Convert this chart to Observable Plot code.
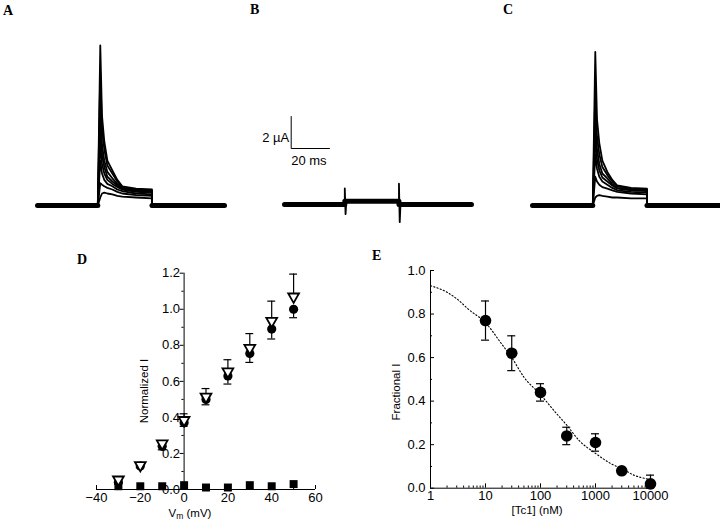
<!DOCTYPE html>
<html><head><meta charset="utf-8">
<script src="https://cdn.jsdelivr.net/npm/d3@7"></script>
<script src="https://cdn.jsdelivr.net/npm/@observablehq/plot@0.6"></script>
<style>
body{margin:0;background:#fff;}
#fig{position:relative;width:720px;height:524px;overflow:hidden;background:#fff;font-family:"Liberation Sans",Arial,sans-serif;color:#000;}
.panel{position:absolute;}
.panel svg text{font-family:"Liberation Sans",Arial,sans-serif;}
.lbl{position:absolute;font-family:"Liberation Serif",serif;font-weight:bold;font-size:14px;line-height:1;}
.ttl{position:absolute;font-size:11.5px;line-height:1;white-space:nowrap;transform:translateX(-50%);}
.ttl sub{font-size:8.5px;vertical-align:-2px;}
.rot{position:absolute;font-size:11.5px;line-height:1;white-space:nowrap;transform:translate(-50%,-50%) rotate(-90deg);}
</style></head><body><div id="fig"></div>
<script>
// ---------- Traces (A, B, C): times in ms, currents in µA ----------
const sweepEnd = 97.7;        // ms, total sweep
const stepOn = 31.5;          // ms, pulse onset
const stepOff = 59.8;         // ms, pulse end
const relTimes = [0, 1.3, 2.2, 3.4, 5, 7.6, 10.2, 12.8, 20, 28.3];
const tracesA = [
  [0, 10.0, 5.6, 4.0, 2.8, 2.2, 1.6, 1.2, 1.05, 1.0],
  [0, 8.3, 4.8, 3.5, 2.5, 2.0, 1.5, 1.15, 1.0, 0.95],
  [0, 6.3, 3.8, 2.8, 2.1, 1.7, 1.35, 1.1, 0.95, 0.9],
  [0, 5.2, 3.2, 2.4, 1.8, 1.5, 1.25, 1.05, 0.9, 0.85],
  [0, 3.9, 2.6, 2.0, 1.6, 1.35, 1.15, 1.0, 0.85, 0.8],
  [0, 2.8, 2.0, 1.6, 1.35, 1.2, 1.0, 0.9, 0.75, 0.7],
  [0, 1.4, 1.3, 1.2, 1.1, 1.0, 0.85, 0.75, 0.65, 0.6],
  [0, 0.5, 0.75, 0.8, 0.75, 0.7, 0.6, 0.55, 0.5, 0.45]
];
const tracesC = [
  [0, 9.6, 5.4, 3.9, 2.8, 2.1, 1.6, 1.25, 1.1, 1.05],
  [0, 7.1, 4.3, 3.2, 2.4, 1.9, 1.5, 1.2, 1.05, 1.0],
  [0, 5.5, 3.5, 2.6, 2.0, 1.7, 1.35, 1.1, 1.0, 0.95],
  [0, 4.4, 2.9, 2.2, 1.75, 1.5, 1.25, 1.05, 0.95, 0.9],
  [0, 3.2, 2.3, 1.8, 1.5, 1.3, 1.1, 0.95, 0.85, 0.8],
  [0, 1.8, 1.5, 1.3, 1.15, 1.05, 0.95, 0.85, 0.75, 0.7],
  [0, 0.5, 0.6, 0.65, 0.6, 0.55, 0.5, 0.5, 0.45, 0.45]
];
const traceBTimes = [0, 31.5, 31.5, 31.9, 32.3, 59.8, 59.8, 60.2, 60.6, 97.7];
const traceBValues = [0, 0, 1.0, -0.6, 0.2, 0.2, 1.3, -1.1, 0, 0];
const traceBBandTimes = [0, 31.5, 31.5, 59.8, 59.8, 97.7];
const traceBBandValues = [0, 0, 0.2, 0.2, 0, 0];
const scaleBarTime = 20;   // ms
const scaleBarAmp = 2;     // µA

// ---------- Panel D: I–V ----------
const dVm = [-30, -20, -10, 0, 10, 20, 30, 40, 50];
const dCircle = [0.04, 0.13, 0.24, 0.37, 0.50, 0.63, 0.755, 0.89, 1.00];
const dCircleLo = [0.03, 0.12, 0.22, 0.35, 0.47, 0.585, 0.705, 0.835, 0.953];
const dTriangle = [0.055, 0.135, 0.255, 0.385, 0.515, 0.655, 0.785, 0.935, 1.07];
const dTriangleHi = [0.065, 0.145, 0.265, 0.42, 0.56, 0.72, 0.865, 1.045, 1.195];
const dSquare = [0.018, 0.018, 0.018, 0.024, 0.011, 0.011, 0.024, 0.018, 0.03];
const dXTicks = [-40, -20, 0, 20, 40, 60];
const dXMinor = [-30, -10, 10, 30, 50];
const dYTicks = [0, 0.2, 0.4, 0.6, 0.8, 1.0, 1.2];
const dYMinor = [0.1, 0.3, 0.5, 0.7, 0.9, 1.1];

// ---------- Panel E: dose–response ----------
const eConc = [10, 30, 100, 300, 1000, 3000, 10000];
const eFrac = [0.77, 0.62, 0.44, 0.24, 0.21, 0.08, 0.02];
const eLo = [0.68, 0.54, 0.40, 0.20, 0.17, 0.07, 0.0];
const eHi = [0.86, 0.70, 0.48, 0.28, 0.25, 0.09, 0.06];
const fitConc = [1, 2, 3, 5, 10, 20, 30, 50, 100, 200, 300, 500, 1000, 2000, 3000, 5000, 10000];
const fitFrac = [0.93, 0.90, 0.87, 0.82, 0.76, 0.66, 0.60, 0.51, 0.43, 0.34, 0.29, 0.22, 0.16, 0.11, 0.09, 0.06, 0.04];
const eXTicks = [1, 10, 100, 1000, 10000];
const eXMinor = [2,3,4,5,6,7,8,9,20,30,40,50,60,70,80,90,200,300,400,500,600,700,800,900,2000,3000,4000,5000,6000,7000,8000,9000];
const eYTicks = [0, 0.2, 0.4, 0.6, 0.8, 1.0];
const eYMinor = [0.1, 0.3, 0.5, 0.7, 0.9];

// ---------- build ----------
const fig = document.getElementById("fig");
const FONT = '"Liberation Sans", Arial, sans-serif';
function place(el, left, top) {
  const d = document.createElement("div");
  d.className = "panel"; d.style.left = left + "px"; d.style.top = top + "px";
  d.appendChild(el); fig.appendChild(d);
}
function html(cls, text, left, top) {
  const d = document.createElement("div");
  d.className = cls; d.innerHTML = text; d.style.left = left + "px"; d.style.top = top + "px";
  fig.appendChild(d);
}

function traceRows(traces) {
  const rows = [];
  traces.forEach((vals, k) => {
    rows.push({id: k, t: 0, v: 0}, {id: k, t: stepOn, v: 0});
    relTimes.forEach((rt, i) => rows.push({id: k, t: stepOn + rt, v: vals[i]}));
    rows.push({id: k, t: stepOff, v: 0}, {id: k, t: sweepEnd, v: 0});
  });
  return rows;
}
const baseRows = [{s: 0, t: 0, v: 0}, {s: 0, t: stepOn, v: 0}, {s: 1, t: stepOff, v: 0}, {s: 1, t: sweepEnd, v: 0}];

function traceChart(rows, band, extra = []) {
  return Plot.plot({
    width: 187, height: 192, margin: 0,
    style: {background: "transparent", overflow: "visible", fontFamily: FONT},
    x: {domain: [0, sweepEnd], axis: null},
    y: {domain: [-1.5, 10.5], axis: null},
    marks: [
      Plot.line(band, {x: "t", y: "v", z: "s", stroke: "black", strokeWidth: 5}),
      Plot.line(rows, {x: "t", y: "v", z: "id", stroke: "black", strokeWidth: 1.8, strokeLinejoin: "round"}),
      ...extra
    ]
  });
}

place(traceChart(traceRows(tracesA), baseRows), 37, 37);
place(traceChart(traceRows(tracesC), baseRows), 532, 37);

const rowsB = traceBTimes.map((t, i) => ({id: 0, t, v: traceBValues[i]}));
const bandB = traceBBandTimes.map((t, i) => ({s: 0, t, v: traceBBandValues[i]}));
const barT0 = 3.5, barV0 = 3.5;
const barRows = [
  {t: barT0, v: barV0 + scaleBarAmp}, {t: barT0, v: barV0}, {t: barT0 + scaleBarTime, v: barV0}
];
place(traceChart(rowsB, bandB, [
  Plot.line(barRows, {x: "t", y: "v", stroke: "black", strokeWidth: 1}),
  Plot.text([`${scaleBarAmp} µA`], {x: barT0, y: barV0 + scaleBarAmp * 0.32, text: d => d, textAnchor: "end", dx: -2, fontSize: 13}),
  Plot.text([`${scaleBarTime} ms`], {x: barT0, y: barV0, text: d => d, textAnchor: "start", dx: 0, dy: 12, fontSize: 13})
]), 284, 36);

// ---- Panel D ----
const dRows = dVm.map((v, i) => ({v, c: dCircle[i], cl: dCircleLo[i], tr: dTriangle[i], th: dTriangleHi[i], sq: dSquare[i]}));
const plotD = Plot.plot({
  width: 300, height: 276, marginLeft: 56, marginRight: 25, marginTop: 24.7, marginBottom: 35,
  style: {background: "transparent", fontFamily: FONT, overflow: "visible"},
  x: {domain: [-40, 60], label: null},
  y: {domain: [0, 1.2], label: null, axis: null},
  marks: [
    Plot.axisX({ticks: dXTicks, tickSize: 0, tickPadding: 3, fontSize: 13, label: null}),
    Plot.ruleX(dXTicks, {x: d => d, y1: 0, y2: 0.022, stroke: "black"}),
    Plot.ruleX(dXMinor, {x: d => d, y1: 0, y2: 0.012, stroke: "black"}),
    Plot.ruleY([0], {stroke: "black"}),
    Plot.ruleX([0], {y1: 0, y2: 1.2, stroke: "black"}),
    Plot.ruleY(dYTicks, {y: d => d, x1: -1.8, x2: 0, stroke: "black"}),
    Plot.ruleY(dYMinor, {y: d => d, x1: -1.0, x2: 0, stroke: "black"}),
    Plot.text(dYTicks, {x: 0, y: d => d, text: d => d.toFixed(1), textAnchor: "end", dx: -4, fontSize: 13}),
    // error bars
    Plot.ruleX(dRows, {x: "v", y1: "cl", y2: "c", stroke: "black", strokeWidth: 1.2}),
    Plot.ruleY(dRows, {y: "cl", x1: d => d.v - 1.8, x2: d => d.v + 1.8, stroke: "black", strokeWidth: 1.2}),
    Plot.ruleX(dRows, {x: "v", y1: "tr", y2: "th", stroke: "black", strokeWidth: 1.2}),
    Plot.ruleY(dRows, {y: "th", x1: d => d.v - 1.8, x2: d => d.v + 1.8, stroke: "black", strokeWidth: 1.2}),
    Plot.dot(dRows, {x: "v", y: "sq", symbol: "square", r: 4.5, fill: "black"}),
    Plot.dot(dRows, {x: "v", y: "c", r: 4.6, fill: "black"}),
    Plot.dot(dRows, {x: "v", y: "tr", symbol: "triangle", rotate: 180, r: 4, fill: "white", stroke: "black", strokeWidth: 1.8})
  ]
});
place(plotD, 40, 248);

// ---- Panel E ----
const eRows = eConc.map((c, i) => ({c, f: eFrac[i], lo: eLo[i], hi: eHi[i]}));
const fitRows = fitConc.map((c, i) => ({c, f: fitFrac[i]}));
const capK = Math.pow(10, 4 / 55);
const plotE = Plot.plot({
  width: 300, height: 276, marginLeft: 50, marginRight: 30, marginTop: 22, marginBottom: 36.3,
  style: {background: "transparent", fontFamily: FONT, overflow: "visible"},
  x: {type: "log", domain: [1, 10000], label: null},
  y: {domain: [0, 1], label: null},
  marks: [
    Plot.axisX({ticks: eXTicks, tickSize: 0, tickPadding: 3, tickFormat: d => String(d), fontSize: 13, label: null}),
    Plot.axisY({ticks: eYTicks, tickSize: 0, tickPadding: 5, tickFormat: d => d.toFixed(1), fontSize: 13, label: null}),
    Plot.ruleX(eXTicks, {x: d => d, y1: 0, y2: 0.02, stroke: "black"}),
    Plot.ruleX(eXMinor, {x: d => d, y1: 0, y2: 0.01, stroke: "black"}),
    Plot.ruleY(eYTicks, {y: d => d, x1: 1, x2: capK, stroke: "black"}),
    Plot.ruleY(eYMinor, {y: d => d, x1: 1, x2: Math.pow(10, 2 / 55), stroke: "black"}),
    Plot.ruleY([0], {stroke: "black"}),
    Plot.ruleX([1], {y1: 0, y2: 1, stroke: "black"}),
    Plot.line(fitRows, {x: "c", y: "f", stroke: "black", strokeWidth: 1.1, strokeDasharray: "1.2,2.2", curve: "monotone-x"}),
    Plot.ruleX(eRows, {x: "c", y1: "lo", y2: "hi", stroke: "black", strokeWidth: 1.2}),
    Plot.ruleY(eRows, {y: "lo", x1: d => d.c / capK, x2: d => d.c * capK, stroke: "black", strokeWidth: 1.2}),
    Plot.ruleY(eRows, {y: "hi", x1: d => d.c / capK, x2: d => d.c * capK, stroke: "black", strokeWidth: 1.2}),
    Plot.dot(eRows, {x: "c", y: "f", r: 5.8, fill: "black"})
  ]
});
place(plotE, 380, 248);

// ---- titles & panel letters ----
html("ttl", "V<sub>m</sub> (mV)", 190, 508);
html("ttl", "[Tc1] (nM)", 537, 505);
html("rot", "Normalized I", 145, 391);
html("rot", "Fractional I", 397, 392);
html("lbl", "A", 3, 4);
html("lbl", "B", 250, 3);
html("lbl", "C", 503, 3);
html("lbl", "D", 77, 253);
html("lbl", "E", 372, 249);
</script></body></html>
